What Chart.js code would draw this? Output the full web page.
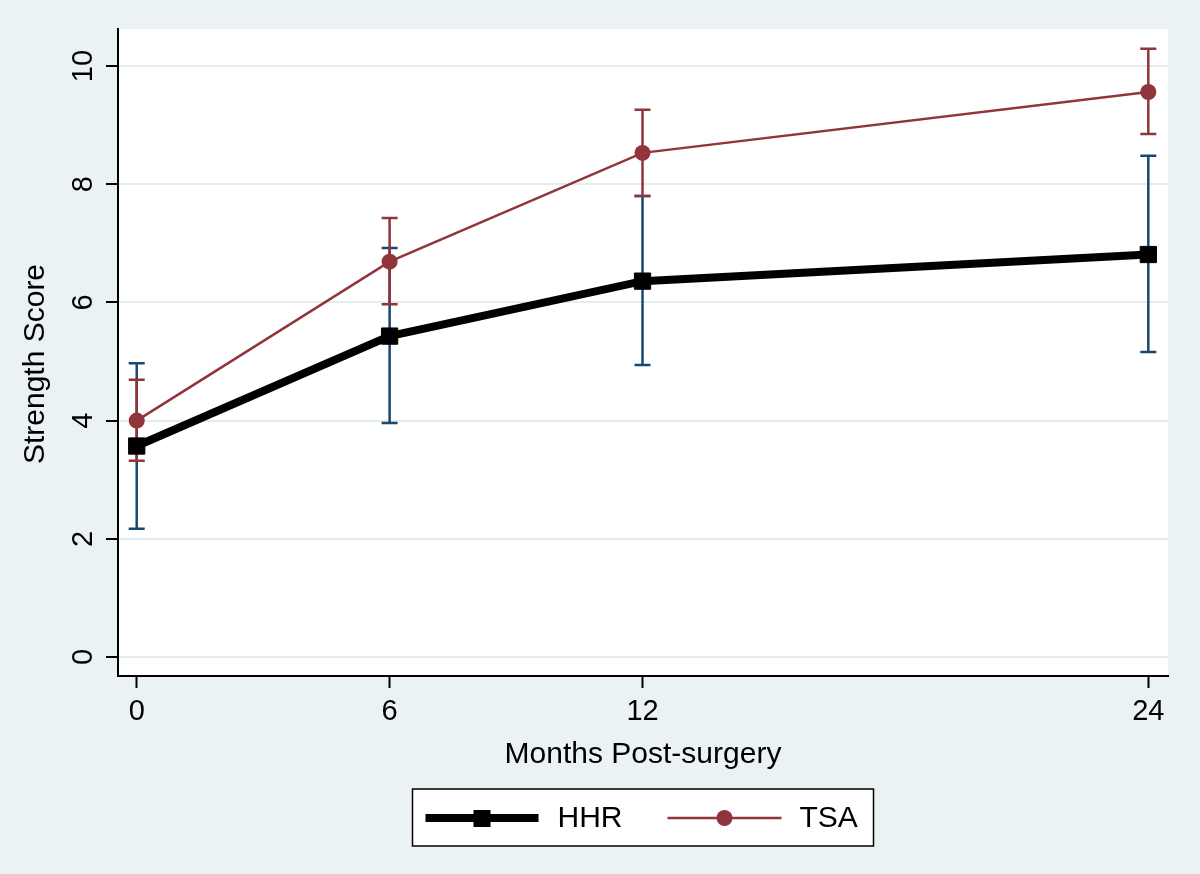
<!DOCTYPE html>
<html lang="en">
  <head>
    <meta charset="UTF-8" />
    <title>Strength Score by Months Post-surgery</title>
    <script src="https://cdn.jsdelivr.net/npm/chart.js"></script>
    <style>
      html, body { margin: 0; padding: 0; background: #eaf2f3; }
      .wrap { width: 1200px; height: 874px; }
    </style>
  </head>
  <body>
    <div class="wrap"><canvas id="strengthChart"></canvas></div>

    <script>
      // data
      const months = [0, 6, 12, 24];
      const yTicks = [0, 2, 4, 6, 8, 10];
      const seriesNames = ["HHR", "TSA"];

      const hhrMean = [3.57, 5.43, 6.36, 6.81];
      const hhrLower = [2.17, 3.96, 4.94, 5.16];
      const hhrUpper = [4.97, 6.92, 7.80, 8.48];

      const tsaMean = [4.0, 6.69, 8.53, 9.56];
      const tsaLower = [3.32, 5.97, 7.80, 8.85];
      const tsaUpper = [4.69, 7.43, 9.26, 10.29];

      const BG = "#eaf2f3";
      const RED = "#90353b";
      const NAVY = "#1a476f";
      const FONT = "'Liberation Sans', Arial, Helvetica, sans-serif";

      function toPoints(ys) {
        return months.map((m, i) => ({ x: m, y: ys[i] }));
      }

      // background + white plot region
      const backgroundPlugin = {
        id: "background",
        beforeDraw(chart) {
          const { ctx, chartArea } = chart;
          ctx.save();
          ctx.fillStyle = BG;
          ctx.fillRect(0, 0, chart.width, chart.height);
          ctx.fillStyle = "#ffffff";
          ctx.fillRect(chartArea.left, chartArea.top,
            chartArea.right - chartArea.left, chartArea.bottom - chartArea.top);
          ctx.restore();
        },
      };

      // capped error bars, drawn under the lines
      const errorBarPlugin = {
        id: "errorBars",
        beforeDatasetsDraw(chart) {
          const { ctx } = chart;
          const xs = chart.scales.x;
          const ys = chart.scales.y;
          const bars = [
            { lo: hhrLower, hi: hhrUpper, color: NAVY },
            { lo: tsaLower, hi: tsaUpper, color: RED },
          ];
          ctx.save();
          ctx.lineWidth = 2.5;
          bars.forEach((b) => {
            ctx.strokeStyle = b.color;
            months.forEach((m, i) => {
              const px = xs.getPixelForValue(m);
              const y1 = ys.getPixelForValue(b.lo[i]);
              const y2 = ys.getPixelForValue(b.hi[i]);
              ctx.beginPath();
              ctx.moveTo(px, y1);
              ctx.lineTo(px, y2);
              ctx.moveTo(px - 8, y1);
              ctx.lineTo(px + 8, y1);
              ctx.moveTo(px - 8, y2);
              ctx.lineTo(px + 8, y2);
              ctx.stroke();
            });
          });
          ctx.restore();
        },
      };

      // rotated y tick labels, y title and the boxed legend
      const stataTextPlugin = {
        id: "stataText",
        afterDraw(chart) {
          const { ctx, chartArea } = chart;
          const ys = chart.scales.y;
          ctx.save();
          ctx.fillStyle = "#000";
          ctx.textAlign = "center";
          ctx.textBaseline = "middle";

          ctx.font = "29px " + FONT;
          ys.ticks.forEach((t) => {
            const py = ys.getPixelForValue(t.value);
            ctx.save();
            ctx.translate(83, py);
            ctx.rotate(-Math.PI / 2);
            ctx.fillText(t.label, 0, 1);
            ctx.restore();
          });

          ctx.font = "30px " + FONT;
          ctx.save();
          ctx.translate(36, 364);
          ctx.rotate(-Math.PI / 2);
          ctx.fillText("Strength Score", 0, 0);
          ctx.restore();

          // legend box
          const cx = (chartArea.left + chartArea.right) / 2;
          const boxW = 461, boxH = 57, boxTop = 789;
          const left = cx - boxW / 2;
          ctx.fillStyle = "#fff";
          ctx.fillRect(left, boxTop, boxW, boxH);
          ctx.strokeStyle = "#000";
          ctx.lineWidth = 1.5;
          ctx.strokeRect(left, boxTop, boxW, boxH);

          const ly = boxTop + 29;
          // HHR key
          ctx.strokeStyle = "#000";
          ctx.lineWidth = 8;
          ctx.beginPath();
          ctx.moveTo(left + 13, ly);
          ctx.lineTo(left + 126, ly);
          ctx.stroke();
          ctx.fillStyle = "#000";
          ctx.fillRect(left + 61, ly - 8, 17, 17);
          // TSA key
          ctx.strokeStyle = RED;
          ctx.lineWidth = 2.5;
          ctx.beginPath();
          ctx.moveTo(left + 255, ly);
          ctx.lineTo(left + 369, ly);
          ctx.stroke();
          ctx.fillStyle = RED;
          ctx.beginPath();
          ctx.arc(left + 312, ly, 8, 0, Math.PI * 2);
          ctx.fill();

          ctx.fillStyle = "#000";
          ctx.textAlign = "left";
          ctx.font = "30px " + FONT;
          ctx.fillText(seriesNames[0], left + 145, ly + 1);
          ctx.fillText(seriesNames[1], left + 387, ly + 1);
          ctx.restore();
        },
      };

      const ctx = document.getElementById("strengthChart").getContext("2d");
      const strengthChart = new Chart(ctx, {
        type: "line",
        data: {
          datasets: [
            {
              label: seriesNames[0],
              data: toPoints(hhrMean),
              borderColor: "#000",
              backgroundColor: "#000",
              borderWidth: 8,
              pointStyle: "rect",
              pointRadius: 11.5,
              pointBorderWidth: 1,
              order: 1,
            },
            {
              label: seriesNames[1],
              data: toPoints(tsaMean),
              borderColor: RED,
              backgroundColor: RED,
              borderWidth: 2.5,
              pointStyle: "circle",
              pointRadius: 8,
              pointBorderWidth: 0,
              order: 0,
            },
          ],
        },
        options: {
          responsive: true,
          maintainAspectRatio: false,
          animation: false,
          layout: { padding: { top: 29, right: 32, bottom: 0, left: 0 } },
          plugins: {
            legend: { display: false },
            tooltip: { enabled: false },
          },
          scales: {
            x: {
              type: "linear",
              min: -0.444,
              max: 24.467,
              afterBuildTicks(scale) {
                scale.ticks = months.map((v) => ({ value: v }));
              },
              afterFit(scale) {
                scale.height = 198;
              },
              ticks: {
                font: { family: FONT, size: 29 },
                color: "#000",
                padding: 7,
                maxRotation: 0,
              },
              grid: {
                drawOnChartArea: false,
                tickLength: 12,
                tickColor: "#000",
                tickWidth: 2,
              },
              border: { color: "#000", width: 2 },
              title: {
                display: true,
                text: "Months Post-surgery",
                color: "#000",
                font: { family: FONT, size: 30 },
                padding: { top: 0, bottom: 101 },
              },
            },
            y: {
              type: "linear",
              min: -0.321,
              max: 10.626,
              afterBuildTicks(scale) {
                scale.ticks = yTicks.map((v) => ({ value: v }));
              },
              afterFit(scale) {
                scale.width = 118;
              },
              ticks: { display: false },
              grid: {
                color: "#e3edef",
                lineWidth: 2,
                tickLength: 12,
                tickColor: "#000",
                tickWidth: 2,
              },
              border: { color: "#000", width: 2 },
            },
          },
        },
        plugins: [backgroundPlugin, errorBarPlugin, stataTextPlugin],
      });
    </script>
  </body>
</html>
